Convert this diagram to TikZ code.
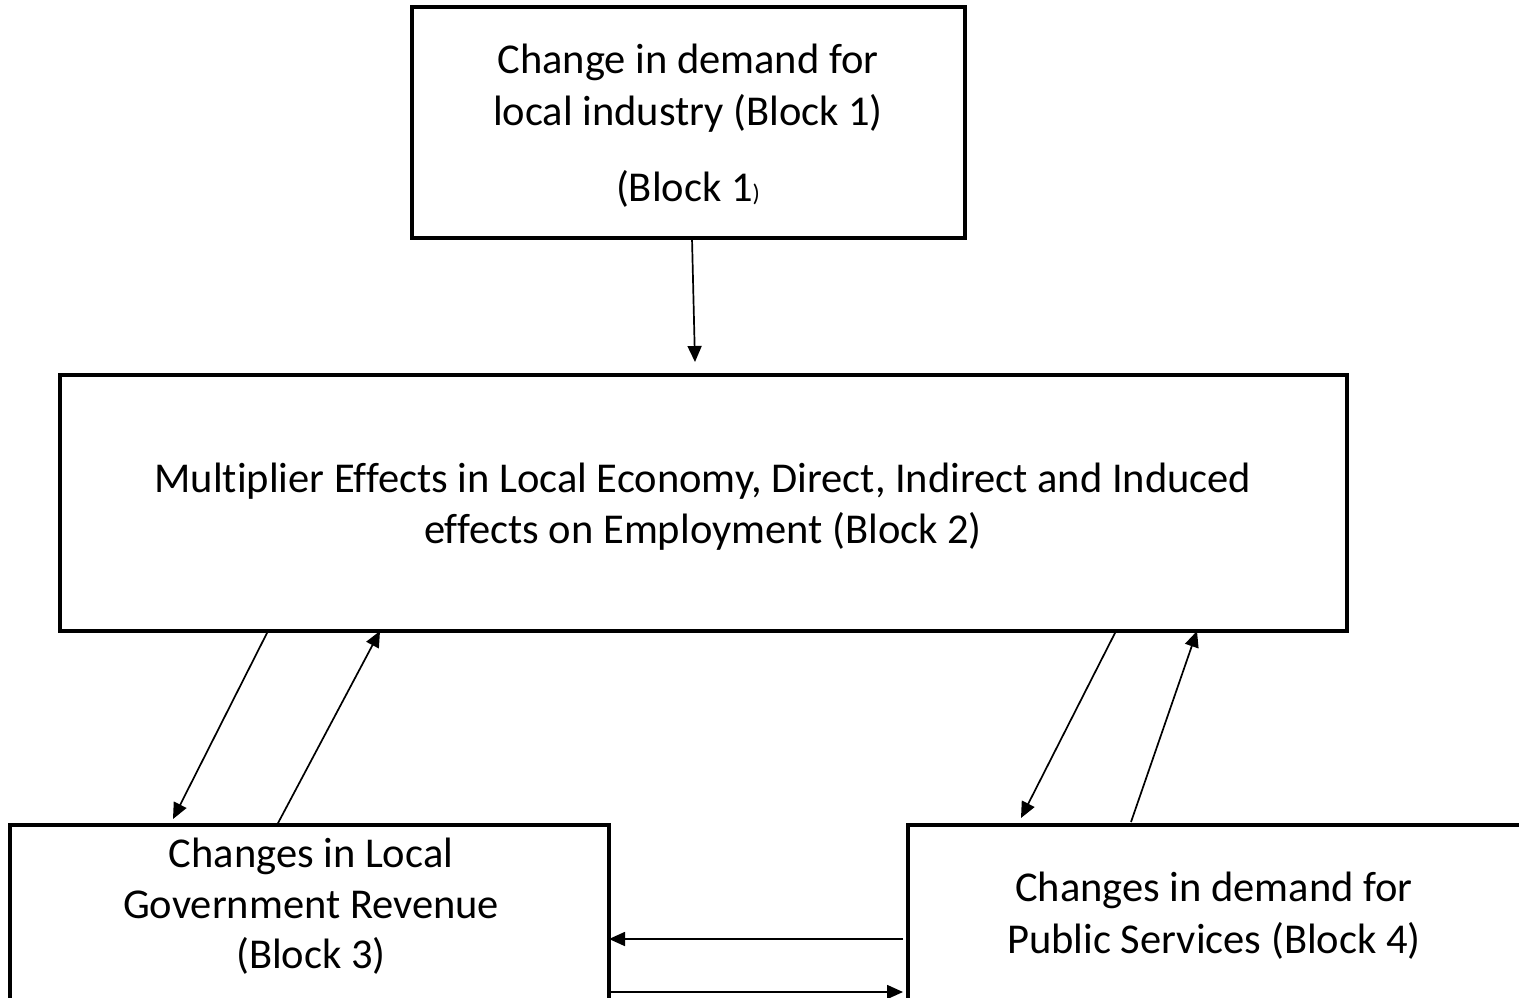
\documentclass[tikz,border=0pt]{standalone}
\usepackage{fontspec}
\setmainfont{Carlito}[Ligatures=NoCommon]
\usetikzlibrary{arrows.meta,calc}
\tikzset{
  blockbox/.style={draw=black, line width=3.6pt, rectangle, inner sep=0pt, outer sep=0pt, anchor=north west},
  txt/.style={anchor=base, inner sep=0pt, font=\fontsize{42.5}{52}\selectfont},
  conn/.style={line width=1.7pt, -{Triangle[length=16pt,width=14pt]}}
}
\begin{document}
\begin{tikzpicture}[x=1pt,y=-1pt]
\clip (0,0) rectangle (1519,998);
\fill[white] (0,0) rectangle (1519,998);
% boxes
\node[blockbox, minimum width=553pt, minimum height=231pt] (b1) at (412,7) {};
\node[blockbox, minimum width=1287pt, minimum height=256pt] (b2) at (60,375) {};
\node[blockbox, minimum width=599pt, minimum height=190pt] (b3) at (10,825) {};
\node[blockbox, minimum width=614pt, minimum height=190pt] (b4) at (908,825) {};
% texts
\node[txt] (b1l1) at (688,74) {Change in demand for};
\node[txt] (b1l2) at (688,125) {local industry (Block 1)};
\node[txt] (b1l3) at (688,201) {(Block 1{\fontsize{24}{24}\selectfont )}};
\node[txt] (b2l1) at (703,492) {Multiplier Effects in Local Economy, Direct, Indirect and Induced};
\node[txt] (b2l2) at (703,543) {effects on Employment (Block 2)};
\node[txt] (b3l1) at (311,867) {Changes in Local};
\node[txt] (b3l2) at (311,918) {Government Revenue};
\node[txt] (b3l3) at (311,968) {(Block 3)};
\node[txt] (b4l1) at (1214,901) {Changes in demand for};
\node[txt] (b4l2) at (1214,953) {Public Services (Block 4)};
% free arrow ends
\coordinate (t1) at (695,362);
\coordinate (t2) at (173,819);
\coordinate (t4) at (1021,818);
% connectors
\draw[conn] ($(b1.south west)+(280,0)$) -- (t1);
\draw[conn] ($(b2.south west)+(208,0)$) -- (t2);
\draw[conn] ($(b3.north west)+(267,0)$) -- ($(b2.south west)+(320,0)$);
\draw[conn] ($(b2.south west)+(1056,0)$) -- (t4);
\draw[conn] ($(b4.north west)+(223,-3)$) -- ($(b2.south west)+(1137,0)$);
\draw[conn] ($(b4.north west)+(-5,114)$) -- ($(b3.north east)+(0,114)$);
\draw[conn] ($(b3.north east)+(0,167)$) -- ($(b4.north west)+(-5,167)$);
\end{tikzpicture}
\end{document}
